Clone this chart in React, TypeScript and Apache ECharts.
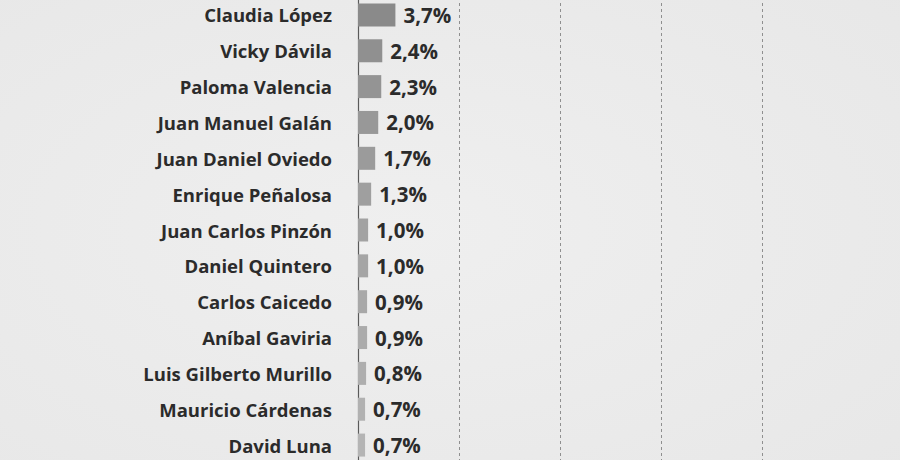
import React, { useEffect, useRef } from "react";
import * as echarts from "echarts";

const candidates = [
  "Claudia López",
  "Vicky Dávila",
  "Paloma Valencia",
  "Juan Manuel Galán",
  "Juan Daniel Oviedo",
  "Enrique Peñalosa",
  "Juan Carlos Pinzón",
  "Daniel Quintero",
  "Carlos Caicedo",
  "Aníbal Gaviria",
  "Luis Gilberto Murillo",
  "Mauricio Cárdenas",
  "David Luna",
];
const values = [3.7, 2.4, 2.3, 2.0, 1.7, 1.3, 1.0, 1.0, 0.9, 0.9, 0.8, 0.7, 0.7];

function barColor(idx: number, n: number) {
  const t = Math.pow(idx / (n - 1), 0.8);
  const c = Math.round(138 + 42 * t);
  return `rgb(${c},${c},${c})`;
}

export default function App() {
  const ref = useRef<HTMLDivElement>(null);
  useEffect(() => {
    document.body.style.margin = "0";
    const chart = echarts.init(ref.current!, null, { renderer: "svg" });
    chart.setOption({
      animation: false,
      backgroundColor: {
        type: "radial",
        x: 0.45,
        y: 0.5,
        r: 0.9,
        colorStops: [
          { offset: 0, color: "#efefef" },
          { offset: 1, color: "#e6e6e6" },
        ],
      },
      grid: { left: 358, right: 87, top: 0, bottom: 0, containLabel: false },
      xAxis: {
        type: "value",
        min: 0,
        max: 45,
        interval: 10,
        axisLabel: { show: false },
        axisLine: { show: false },
        axisTick: { show: false },
        splitLine: {
          show: true,
          showMinLine: false,
          showMaxLine: false,
          lineStyle: { type: [3, 3], color: "#8f8f8f", width: 1 },
        },
      },
      yAxis: {
        type: "category",
        inverse: true,
        data: candidates,
        axisLine: { show: true, lineStyle: { color: "#5a5a5a", width: 1.2 } },
        axisTick: { show: false },
        axisLabel: {
          margin: 26,
          fontFamily: "Open Sans",
          fontWeight: "bold",
          fontSize: 18.5,
          color: "#2b2b2b",
        },
      },
      series: [
        {
          type: "bar",
          data: values,
          barWidth: 23,
          itemStyle: {
            color: (p: any) => barColor(p.dataIndex, values.length),
          },
          label: {
            show: true,
            position: "right",
            distance: 8,
            formatter: (p: any) => p.value.toFixed(1).replace(".", ",") + "%",
            fontFamily: "Open Sans",
            fontWeight: "bold",
            fontSize: 20.5,
            color: "#2b2b2b",
          },
        },
      ],
    });
    return () => chart.dispose();
  }, []);
  return (
    <div style={{ width: 900, height: 460, overflow: "hidden", position: "relative" }}>
      <div ref={ref} style={{ position: "absolute", left: 0, top: -3, width: 900, height: 466 }} />
    </div>
  );
}
